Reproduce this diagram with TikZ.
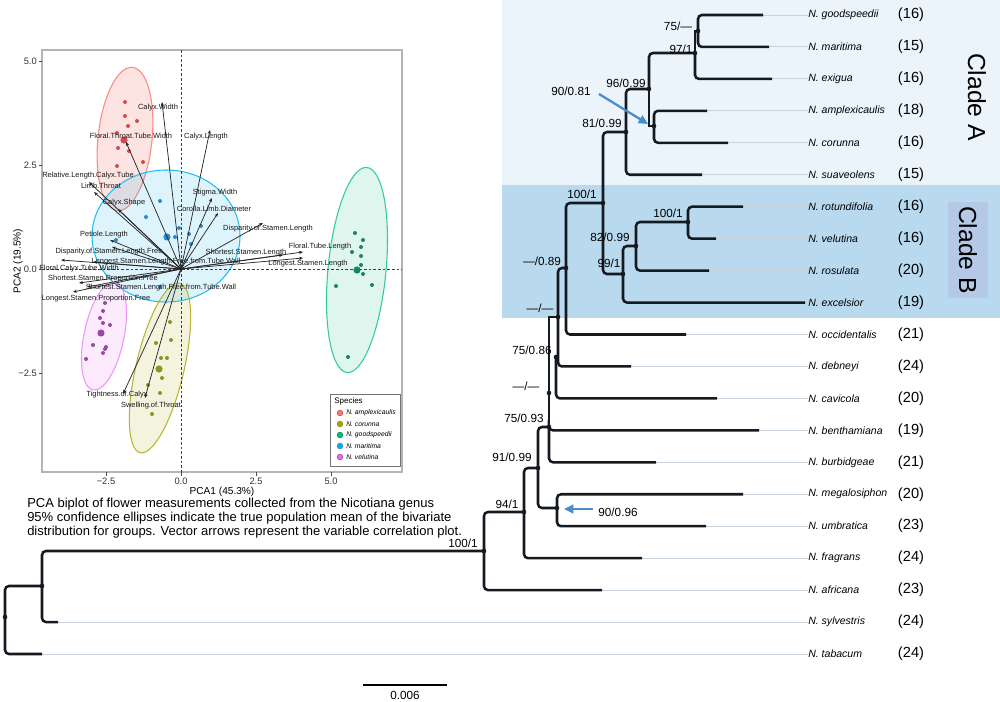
\documentclass[tikz,border=0pt]{standalone}
\usepackage{fontspec}
\setmainfont{Liberation Sans}
\usetikzlibrary{arrows.meta}
\definecolor{cladeA}{HTML}{EBF4FB}
\definecolor{cladeB}{HTML}{B9D9EF}
\definecolor{cladeBbox}{HTML}{B5C9E7}
\definecolor{branch}{HTML}{141A20}
\definecolor{faint}{HTML}{C9D3DD}
\definecolor{arrowblue}{HTML}{4A8CC8}
\definecolor{cAmp}{HTML}{F8766D}
\definecolor{cCor}{HTML}{A3A500}
\definecolor{cGood}{HTML}{00BF7D}
\definecolor{cMar}{HTML}{00B0F6}
\definecolor{cVel}{HTML}{E76BF3}
\definecolor{pAmp}{HTML}{D04C48}
\definecolor{pCor}{HTML}{8A9420}
\definecolor{pGood}{HTML}{16875A}
\definecolor{pMar}{HTML}{2A8ACB}
\definecolor{pVel}{HTML}{9A48A8}
\definecolor{panel}{HTML}{B4B4B4}
\tikzset{
  br/.style={draw=branch, line width=1.9pt, rounded corners=3pt},
  brsharp/.style={draw=branch, line width=1.9pt, sharp corners},
  ext/.style={draw=faint, line width=0.7pt},
  suplab/.style={font=\fontsize{8.8}{10}\selectfont, inner sep=0pt},
  tiplab/.style={font=\fontsize{7.9}{9}\selectfont\itshape, anchor=west, inner sep=0pt},
  cntlab/.style={font=\fontsize{11}{12}\selectfont, inner sep=0pt},
  vec/.style={draw=black!85, line width=0.55pt, -{Stealth[length=3pt,width=2.4pt]}},
  vlab/.style={font=\fontsize{5.6}{6}\selectfont, inner sep=0pt, text=black!90},
  tick/.style={font=\fontsize{7}{8}\selectfont, inner sep=0pt, text=black!80},
  barrow/.style={draw=arrowblue, line width=1.7pt, -{Triangle[length=7pt,width=6.5pt]}},
  ell/.style={line width=0.8pt},
  caplab/.style={anchor=west, inner sep=0pt, font=\fontsize{9.75}{11}\selectfont},
}
\begin{document}
\begin{tikzpicture}[x=0.75pt,y=-0.75pt]
\path[use as bounding box, fill=white] (0,0) rectangle (1000,702);

% ---------------- clade backgrounds ----------------
\fill[cladeA] (502,0) rectangle (1000,185);
\fill[cladeB] (502,185) rectangle (1000,318);
\fill[cladeBbox] (948,202) rectangle (988,298);
\node[rotate=-90, font=\fontsize{18.5}{20}\selectfont, inner sep=0pt] (cladeAlab) at (977,97) {Clade A};
\node[rotate=-90, font=\fontsize{18.5}{20}\selectfont, inner sep=0pt] (cladeBlab) at (968,250) {Clade B};

% ---------------- tips ----------------
\foreach \i/\nm/\ex/\ct in {0/goodspeedii/763/16, 1/maritima/769/15, 2/exigua/772/16,
  3/amplexicaulis/707/18, 4/corunna/728/16, 5/suaveolens/702/15, 6/rotundifolia/743/16,
  7/velutina/716/16, 8/rosulata/709/20, 9/excelsior/805/19, 10/occidentalis/686/21,
  11/debneyi/631/24, 12/cavicola/717/20, 13/benthamiana/759/19, 14/burbidgeae/656/21,
  15/megalosiphon/743/20, 16/umbratica/706/23, 17/fragrans/642/24, 18/africana/602/23,
  19/sylvestris/58/24, 20/tabacum/42/24} {
  \pgfmathsetmacro\yy{15+31.95*\i}
  \coordinate (e\i) at (\ex,\yy);
  \node[tiplab] (t\i) at (808,\yy) {N. \nm};
  \node[cntlab] (c\i) at (911,\yy) {(\ct)};
  \draw[ext] (e\i) -- (t\i.west);
}

% ---------------- internal nodes ----------------
\coordinate (nGM) at (698,31);
\coordinate (nGME) at (695,53);
\coordinate (nAC) at (654,126);
\coordinate (n96) at (649,89);
\coordinate (n81) at (626,132);
\coordinate (nRV) at (688,222);
\coordinate (n82) at (636,246);
\coordinate (n99) at (623,274);
\coordinate (n100) at (603,203);
\coordinate (n089) at (566,268);
\coordinate (nA) at (558,317);
\coordinate (n086) at (556,357);
\coordinate (nE) at (549,393);
\coordinate (n093) at (549,427);
\coordinate (n091) at (538,468);
\coordinate (nMU) at (557,508);
\coordinate (n94) at (524,512);
\coordinate (nR100) at (484,551);
\coordinate (nSyl) at (42,586);
\coordinate (nRoot) at (5,617);

% ---------------- branches ----------------
\draw[br] (nGM) |- (e0);  \draw[br] (nGM) |- (e1);
\draw[brsharp] (nGME) |- (nGM); \draw[br] (nGME) |- (e2);
\draw[br] (nAC) |- (e3);  \draw[br] (nAC) |- (e4);
\draw[br] (n96) |- (nGME); \draw[brsharp] (n96) |- (nAC);
\draw[br] (n81) |- (n96); \draw[br] (n81) |- (e5);
\draw[br] (nRV) |- (e6); \draw[br] (nRV) |- (e7);
\draw[br] (n82) |- (nRV); \draw[br] (n82) |- (e8);
\draw[br] (n99) |- (n82); \draw[br] (n99) |- (e9);
\draw[br] (n100) |- (n81); \draw[br] (n100) |- (n99);
\draw[br] (n089) |- (n100); \draw[br] (n089) |- (e10);
\draw[br] (nA) |- (n089); \draw[br] (nA) |- (e11);
\draw[br] (n086) |- (e12); \draw[brsharp] (n086) -- (nA |- n086);
\draw[brsharp] (nE) |- (nA);
\draw[br] (n093) -- (nE); \draw[br] (n093) |- (e13); \draw[br] (n093) |- (e14);
\draw[br] (nMU) |- (e15); \draw[br] (nMU) |- (e16);
\draw[br] (n091) |- (n093); \draw[br] (n091) |- (nMU);
\draw[br] (n94) |- (n091); \draw[br] (n94) |- (e17);
\draw[br] (nR100) |- (n94); \draw[br] (nR100) |- (e18);
\draw[br] (nSyl) |- (nR100); \draw[br] (nSyl) |- (e19);
\draw[br] (nRoot) |- (nSyl); \draw[br] (nRoot) |- (e20);

\foreach \n in {nGM,nGME,nAC,n96,n81,nRV,n82,n99,n100,n089,nA,n086,nE,n093,n091,nMU,n94,nR100,nSyl,nRoot}
  \fill[branch] (\n) circle[radius=2.3];

% ---------------- support values ----------------
\node[suplab] (s1) at (678,26) {75/—};
\node[suplab] (s2) at (681,49) {97/1};
\node[suplab] (s3) at (626,83) {96/0.99};
\node[suplab] (s4) at (571,91) {90/0.81};
\node[suplab] (s5) at (602,123) {81/0.99};
\node[suplab] (s6) at (582,194) {100/1};
\node[suplab] (s7) at (668,213) {100/1};
\node[suplab] (s8) at (610,237) {82/0.99};
\node[suplab] (s9) at (609,263) {99/1};
\node[suplab] (s10) at (542,261) {—/0.89};
\node[suplab] (s11) at (540,308) {—/—};
\node[suplab] (s12) at (532,350) {75/0.86};
\node[suplab] (s13) at (526,386) {—/—};
\node[suplab] (s14) at (524,418) {75/0.93};
\node[suplab] (s15) at (512,457) {91/0.99};
\node[suplab] (s16) at (507,504) {94/1};
\node[suplab] (s17) at (618,512) {90/0.96};
\node[suplab] (s18) at (463,543) {100/1};

\coordinate (a1s) at (599,94);
\coordinate (a1e) at (648,124);
\draw[barrow] (a1s) -- (a1e);
\coordinate (a2s) at (593,509);
\coordinate (a2e) at (564,509);
\draw[barrow] (a2s) -- (a2e);

% ---------------- scale bar ----------------
\coordinate (sb1) at (363,685);
\coordinate (sb2) at (447,685);
\draw[line width=1.6pt] (sb1) -- (sb2);
\node[font=\fontsize{8.8}{10}\selectfont, inner sep=0pt] (sblab) at (405,695) {0.006};

% ---------------- caption ----------------
\node[caplab] (cap1) at (27,504) {PCA biplot of flower measurements collected from the Nicotiana genus};
\node[caplab] (cap2) at (27,518) {95\% confidence ellipses indicate the true population mean of the bivariate};
\node[caplab] (cap3) at (27,532) {distribution for groups. Vector arrows represent the variable correlation plot.};

% ---------------- PCA panel ----------------
\begin{scope}[shift={(125,139)}, rotate=84]
  \draw[ell, draw=cAmp!85, fill=cAmp, fill opacity=0.2] (0,0) ellipse[x radius=72, y radius=27];
\end{scope}
\begin{scope}[shift={(166,236)}]
  \draw[ell, draw=cMar!85, fill=cMar, fill opacity=0.13] (0,0) ellipse[x radius=74, y radius=66];
\end{scope}
\begin{scope}[shift={(357,270)}, rotate=84.5]
  \draw[ell, draw=cGood!80, fill=cGood, fill opacity=0.13] (0,0) ellipse[x radius=103, y radius=29];
\end{scope}
\begin{scope}[shift={(160,368)}, rotate=76.8]
  \draw[ell, draw=cCor!80, fill=cCor, fill opacity=0.13] (0,0) ellipse[x radius=87, y radius=24];
\end{scope}
\begin{scope}[shift={(104,336)}, rotate=78.4]
  \draw[ell, draw=cVel!70, fill=cVel, fill opacity=0.13] (0,0) ellipse[x radius=55, y radius=20];
\end{scope}

\draw[draw=panel, line width=1pt] (42,50) rectangle (402,472);
\draw[black!75, line width=0.6pt, dash pattern=on 2pt off 1.5pt] (181,50) -- (181,472);
\draw[black!75, line width=0.6pt, dash pattern=on 2pt off 1.5pt] (42,269) -- (402,269);

% points
\foreach \p in {(125,102),(125,116),(137,121),(128,126),(117,133),(118,148),(129,151),(117,166),(143,162)}
  \fill[pAmp] \p circle[radius=2];
\fill[pAmp] (124,140) circle[radius=3.6];
\foreach \p in {(160,201),(146,217),(175,237),(179,228),(189,234),(191,244),(201,226),(116,240),(160,287)}
  \fill[pMar] \p circle[radius=2];
\fill[pMar] (167,237) circle[radius=3.6];
\foreach \p in {(355,233),(363,240),(352,252),(361,247),(361,256),(361,265),(363,274),(336,286),(372,285),(348,357)}
  \fill[pGood] \p circle[radius=2];
\fill[pGood] (357,270) circle[radius=3.6];
\foreach \p in {(170,322),(171,340),(156,343),(161,358),(167,358),(162,378),(148,385),(160,393),(152,414)}
  \fill[pCor] \p circle[radius=2];
\fill[pCor] (159,369) circle[radius=3.6];
\foreach \p in {(105,303),(103,311),(100,318),(103,323),(110,325),(106,347),(105,349),(103,353),(93,345),(86,359)}
  \fill[pVel] \p circle[radius=2];
\fill[pVel] (101,333) circle[radius=3.6];

% vectors
\coordinate (O) at (181,269);
\def\veclist{162/102/158/108/Calyx.Width,
126/142/131/136/Floral.Throat.Tube.Width,
210/130/206/137/Calyx.Length,
89/182/88/176/Relative.Length.Calyx.Tube,
94/192/101/186/Limb.Throat,
118/209/124/203/Calyx.Shape,
212/198/215/193/Stigma.Width,
218/213/214/209/Corolla.Limb.Diameter,
263/223/268/229/Disparity.of.Stamen.Length,
110/240/104/235/Petiole.Length,
112/247/109/252/Disparity.of.Stamen.Length.Free,
61/260/79/269/Floral.Calyx.Tube.Width,
93/262/166/262/Longest.Stamen.Length.Free.from.Tube.Wall,
303/252/320/247/Floral.Tube.Length,
283/255/246/253/Shortest.Stamen.Length,
303/258/308/264/Longest.Stamen.Length,
79/283/103/279/Shortest.Stamen.Proportion.Free,
87/287/161/288/Shortest.Stamen.Length.Free.from.Tube.Wall,
73/292/96/299/Longest.Stamen.Proportion.Free,
123/394/117/395/Tightness.of.Calyx,
145/398/151/406/Swelling.of.Throat}
\foreach \tx/\ty/\lx/\ly/\txt [count=\k] in \veclist {
  \coordinate (v\k) at (\tx,\ty);
  \draw[vec] (O) -- (v\k);
}
\foreach \tx/\ty/\lx/\ly/\txt [count=\k] in \veclist {
  \node[vlab] (vl\k) at (\lx,\ly) {\txt};
}

% axes ticks and labels
\foreach \v/\yy in {5.0/61, 2.5/165, 0.0/269, −2.5/373} {
  \draw[black!70, line width=0.5pt] (38.5,\yy) -- (42,\yy);
  \node[tick, anchor=east] at (37,\yy) {\v};
}
\foreach \v/\xx in {−2.5/106, 0.0/181, 2.5/256, 5.0/331} {
  \draw[black!70, line width=0.5pt] (\xx,472) -- (\xx,475.5);
  \node[tick] at (\xx,481) {\v};
}
\node[font=\fontsize{7.6}{8}\selectfont, inner sep=0pt] (xtitle) at (222,492) {PCA1 (45.3\%)};
\node[font=\fontsize{7.6}{8}\selectfont, inner sep=0pt, rotate=90] (ytitle) at (18,261) {PCA2 (19.5\%)};

% legend
\draw[fill=white, draw=black!55, line width=0.6pt] (330,394) rectangle (400,466);
\node[anchor=west, inner sep=0pt, font=\fontsize{6}{7}\selectfont] (legT) at (334,401) {Species};
\foreach \c/\pc/\yy/\nm in {cAmp/pAmp/413/amplexicaulis, cCor/pCor/424/corunna, cGood/pGood/435/goodspeedii, cMar/pMar/446/maritima, cVel/pVel/457/velutina} {
  \fill[\pc] (340,\yy) circle[radius=3.2];
  \fill[\c] (340,\yy) circle[radius=2.4];
  \node[anchor=west, inner sep=0pt, font=\fontsize{5.1}{6}\selectfont\itshape] at (346,\yy) {N. \nm};
}
\end{tikzpicture}
\end{document}
